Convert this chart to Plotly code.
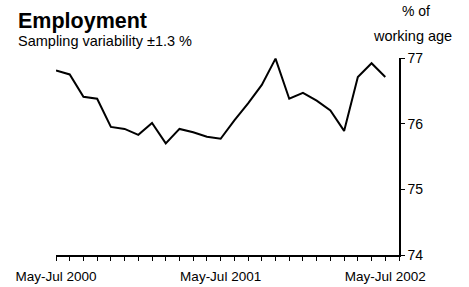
import plotly.graph_objects as go

periods = ["May-Jul 2000", "Jun-Aug 2000", "Jul-Sep 2000", "Aug-Oct 2000", "Sep-Nov 2000",
           "Oct-Dec 2000", "Nov-Jan 2001", "Dec-Feb 2001", "Jan-Mar 2001", "Feb-Apr 2001",
           "Mar-May 2001", "Apr-Jun 2001", "May-Jul 2001", "Jun-Aug 2001", "Jul-Sep 2001",
           "Aug-Oct 2001", "Sep-Nov 2001", "Oct-Dec 2001", "Nov-Jan 2002", "Dec-Feb 2002",
           "Jan-Mar 2002", "Feb-Apr 2002", "Mar-May 2002", "Apr-Jun 2002", "May-Jul 2002"]
employment = [76.81, 76.75, 76.41, 76.38, 75.95, 75.92, 75.83, 76.01, 75.70, 75.92,
              75.87, 75.80, 75.77, 76.05, 76.31, 76.59, 76.99, 76.38, 76.47, 76.35,
              76.20, 75.89, 76.71, 76.92, 76.71]
x_labels = {0: "May-Jul 2000", 12: "May-Jul 2001", 24: "May-Jul 2002"}
y_ticks = [74, 75, 76, 77]

xpos = list(range(len(periods)))
tickvals = list(range(len(periods) + 1))
ticktext = [x_labels.get(i, "") for i in tickvals]

FONT = "Liberation Sans, Arial, sans-serif"

fig = go.Figure()
fig.add_trace(go.Scatter(x=xpos, y=employment, mode="lines",
                         line=dict(color="black", width=2), hovertext=periods,
                         showlegend=False))

fig.update_layout(
    width=469, height=287,
    margin=dict(l=56, r=70, t=58, b=32, autoexpand=False),
    paper_bgcolor="white", plot_bgcolor="white",
    font=dict(family=FONT, color="black"),
    xaxis=dict(range=[0, 25], tickvals=tickvals, ticktext=ticktext, automargin=False,
               showgrid=False, zeroline=False, showline=True, linecolor="black",
               linewidth=1.5, ticks="outside", ticklen=4, tickwidth=1, tickcolor="black",
               tickfont=dict(size=13.5), tickangle=0, ticklabelstandoff=4),
    yaxis=dict(range=[74, 77], side="right", tickvals=y_ticks, automargin=False,
               showgrid=False, zeroline=False, showline=True, linecolor="black",
               linewidth=1.5, ticks="outside", ticklen=4, tickwidth=1, tickcolor="black",
               tickfont=dict(size=14)),
    annotations=[
        dict(text="<b>Employment</b>", xref="paper", yref="paper", x=-0.117, y=1.187,
             xanchor="left", yanchor="middle", showarrow=False, font=dict(size=21.5)),
        dict(text="Sampling variability ±1.3 %", xref="paper", yref="paper", x=-0.117, y=1.085,
             xanchor="left", yanchor="middle", showarrow=False, font=dict(size=14.5)),
        dict(text="% of", xref="paper", yref="paper", x=1.0496, y=1.238,
             xanchor="center", yanchor="middle", showarrow=False, font=dict(size=14)),
        dict(text="working age", xref="paper", yref="paper", x=1.039, y=1.114,
             xanchor="center", yanchor="middle", showarrow=False, font=dict(size=14.5)),
    ],
)

fig.write_html("out.html", config={"displayModeBar": False},
               post_script="document.body.style.margin='0';")
